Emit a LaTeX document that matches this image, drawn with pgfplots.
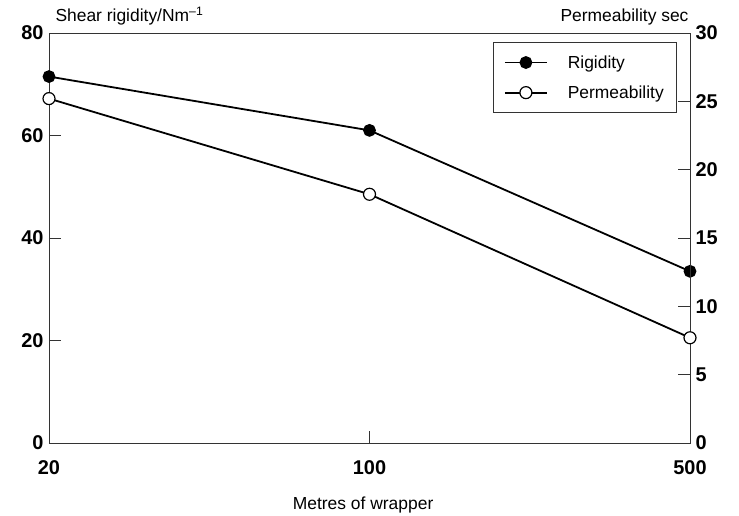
\documentclass[border=0pt]{standalone}
\usepackage{pgfplots}
\pgfplotsset{compat=1.18}
\usepackage{fontspec}
\setmainfont{Liberation Sans}

\pgfplotstableread{
x rig
0 71.5
1 61.0
2 33.5
}\rigidity
\pgfplotstableread{
x perm
0 25.2
1 18.2
2 7.7
}\permeability

\begin{document}
\begin{tikzpicture}
\pgfplotsset{
  every axis/.append style={
    scale only axis, width=641bp, height=410bp,
    xmin=0, xmax=2, clip=false,
    tick align=inside, major tick length=12bp,
    axis line style={black!80, line width=0.9bp},
    every tick/.style={black!80, line width=0.9bp},
    tick label style={font=\fontsize{20}{22}\selectfont\bfseries},
    /pgf/number format/assume math mode=true,
  },
}
\path (-49bp,-71bp) rectangle (690bp,443bp);
\begin{axis}[
  xtick={0,1,2}, xticklabels={20,100,500},
  xtick pos=bottom,
  xticklabel style={yshift=-14bp},
  ymin=0, ymax=80,
  ytick={0,20,40,60,80},
  ytick pos=left,
  yticklabel style={xshift=-2bp},
  xlabel={Metres of wrapper},
  xlabel style={at={(axis description cs:0.49,0)}, anchor=base, yshift=-66bp,
    font=\fontsize{17.5}{20}\selectfont},
  legend style={at={(rel axis cs:0.98,0.978)}, anchor=north east,
    draw=black!80, line width=0.9bp, font=\fontsize{17.5}{20}\selectfont,
    inner xsep=11bp, inner ysep=11bp, row sep=12bp,
    /tikz/every odd column/.append style={column sep=18bp}},
  legend cell align=left,
  legend image code/.code={\draw[mark repeat=2, mark phase=2, #1]
    plot coordinates {(0bp,0bp) (21bp,0bp) (42bp,0bp)};},
]
\addplot[black, line width=1.8bp, mark=*, mark size=5.5bp,
  mark options={fill=black}] table[x=x, y=rig] {\rigidity};
\addlegendentry{Rigidity}
\addlegendimage{black, line width=1.8bp, mark=*, mark size=6bp,
  mark options={fill=white, line width=1.2bp}}
\addlegendentry{Permeability}
\node[anchor=base west, font=\fontsize{17.5}{20}\selectfont]
  at (rel axis cs:0,1) [xshift=3bp, yshift=11bp] {Shear rigidity/Nm\textsuperscript{--1}};
\end{axis}
\begin{axis}[
  axis x line=none,
  axis y line*=right,
  ymin=0, ymax=30,
  ytick={0,5,10,15,20,25,30},
  yticklabel style={xshift=2bp},
]
\addplot[black, line width=1.8bp, mark=*, mark size=6bp,
  mark options={fill=white, line width=1.2bp}] table[x=x, y=perm] {\permeability};
\node[anchor=base east, font=\fontsize{17.5}{20}\selectfont]
  at (rel axis cs:1,1) [xshift=2bp, yshift=11bp] {Permeability sec};
\end{axis}
\end{tikzpicture}
\end{document}
